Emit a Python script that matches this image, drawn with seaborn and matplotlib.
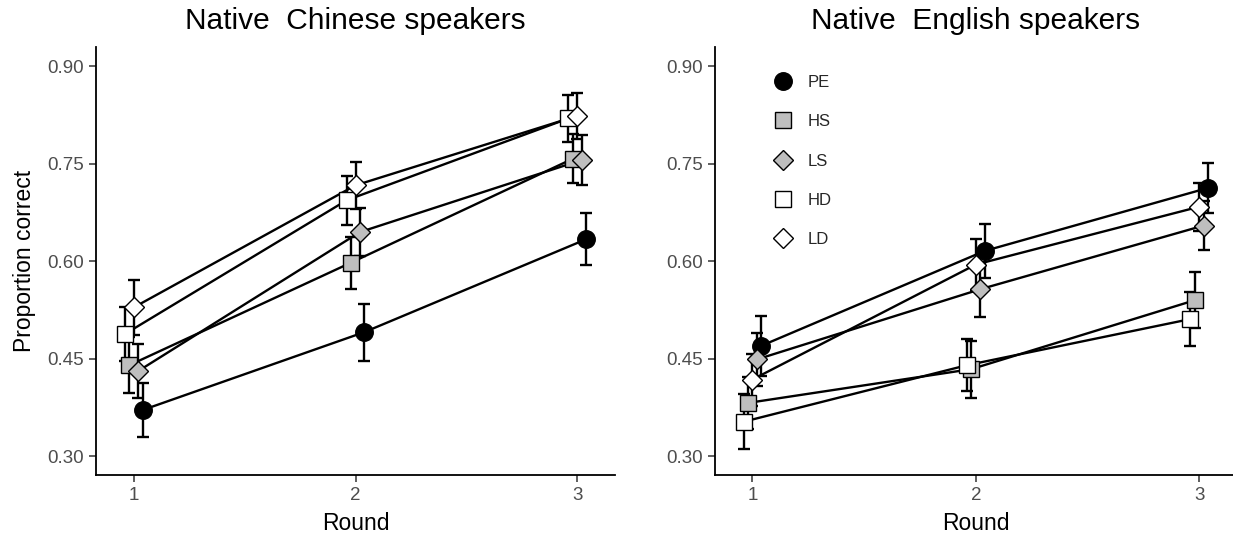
import matplotlib
matplotlib.use("Agg")
import matplotlib.pyplot as plt
from matplotlib.lines import Line2D
import seaborn as sns
import numpy as np
import pandas as pd

sns.set_theme(style="ticks")
plt.rcParams['font.family'] = ['Liberation Sans', 'DejaVu Sans']

rounds = [1, 2, 3]
conditions = ["PE", "HS", "LS", "HD", "LD"]
panel_titles = ["Native  Chinese speakers", "Native  English speakers"]

# Native Chinese speakers: means and standard errors
cn_PE = [0.371, 0.491, 0.634]
cn_HS = [0.440, 0.598, 0.758]
cn_LS = [0.431, 0.645, 0.756]
cn_HD = [0.488, 0.694, 0.820]
cn_LD = [0.529, 0.717, 0.824]
cn_PE_se = [0.042, 0.044, 0.040]
cn_HS_se = [0.043, 0.040, 0.038]
cn_LS_se = [0.042, 0.037, 0.038]
cn_HD_se = [0.042, 0.038, 0.036]
cn_LD_se = [0.043, 0.036, 0.035]

# Native English speakers: means and standard errors
en_PE = [0.470, 0.616, 0.713]
en_HS = [0.382, 0.434, 0.540]
en_LS = [0.449, 0.557, 0.655]
en_HD = [0.353, 0.440, 0.511]
en_LD = [0.418, 0.595, 0.684]
en_PE_se = [0.046, 0.042, 0.038]
en_HS_se = [0.040, 0.044, 0.043]
en_LS_se = [0.041, 0.042, 0.038]
en_HD_se = [0.042, 0.040, 0.042]
en_LD_se = [0.040, 0.040, 0.037]

y_ticks = [0.30, 0.45, 0.60, 0.75, 0.90]

rows = []
for panel, d in [("cn", {"PE": (cn_PE, cn_PE_se), "HS": (cn_HS, cn_HS_se), "LS": (cn_LS, cn_LS_se),
                          "HD": (cn_HD, cn_HD_se), "LD": (cn_LD, cn_LD_se)}),
                 ("en", {"PE": (en_PE, en_PE_se), "HS": (en_HS, en_HS_se), "LS": (en_LS, en_LS_se),
                          "HD": (en_HD, en_HD_se), "LD": (en_LD, en_LD_se)})]:
    for c in conditions:
        m, s = d[c]
        for r, mv, sv in zip(rounds, m, s):
            rows.append(dict(panel=panel, cond=c, round=r, mean=mv, se=sv))
df = pd.DataFrame(rows)

# styling (dodge order alphabetical like ggplot)
dodge = {"HD": -0.04, "HS": -0.02, "LD": 0.0, "LS": 0.02, "PE": 0.04}
style = {
    "PE": dict(marker="o", ms=12.6, mfc="black"),
    "HS": dict(marker="s", ms=11.2, mfc="#BEBEBE"),
    "LS": dict(marker="D", ms=10.6, mfc="#BEBEBE"),
    "HD": dict(marker="s", ms=11.2, mfc="white"),
    "LD": dict(marker="D", ms=10.6, mfc="white"),
}

fig = plt.figure(figsize=(12.33, 5.35), dpi=100)
ax1 = fig.add_axes([96 / 1233, 1 - 475 / 535, 519 / 1233, 428 / 535])
ax2 = fig.add_axes([714.5 / 1233, 1 - 475 / 535, 522.5 / 1233, 428 / 535])

for ax, panel, title in [(ax1, "cn", panel_titles[0]), (ax2, "en", panel_titles[1])]:
    sub = df[df.panel == panel].copy()
    sub["x"] = sub["round"] + sub["cond"].map(dodge)
    for c in conditions:
        g = sub[sub.cond == c]
        ax.errorbar(g["x"], g["mean"], yerr=g["se"], fmt="none", ecolor="black",
                     elinewidth=1.7, capsize=4.3, capthick=1.7, zorder=2)
    for c in conditions:
        g = sub[sub.cond == c]
        sns.lineplot(data=g, x="x", y="mean", ax=ax, color="black", linewidth=1.7,
                     zorder=3, legend=False, errorbar=None)
    for i, c in enumerate(conditions):
        g = sub[sub.cond == c]
        st = style[c]
        ax.plot(g["x"], g["mean"], linestyle="none", marker=st["marker"], markersize=st["ms"],
                markerfacecolor=st["mfc"], markeredgecolor="black", markeredgewidth=1.0,
                zorder=4 + i)
    ax.set_xlim(0.83, 3.17)
    ax.set_ylim(0.271, 0.93)
    ax.set_xticks(rounds)
    ax.set_xticklabels([str(r) for r in rounds])
    ax.set_yticks(y_ticks)
    ax.set_yticklabels([f"{t:.2f}" for t in y_ticks])
    ax.tick_params(axis="both", labelsize=13.5, labelcolor="#4D4D4D", color="#333333",
                   length=5, width=1.1)
    ax.set_xlabel("Round", fontsize=16.5, color="black", labelpad=6)
    ax.set_title(title, fontsize=21.5, color="black", pad=13)
    for sp in ["top", "right"]:
        ax.spines[sp].set_visible(False)
    for sp in ["left", "bottom"]:
        ax.spines[sp].set_linewidth(1.3)
        ax.spines[sp].set_color("black")

ax1.set_ylabel("Proportion correct", fontsize=16.5, color="black", labelpad=8)
ax2.set_ylabel("")

handles = []
for c in conditions:
    st = style[c]
    handles.append(Line2D([], [], linestyle="none", marker=st["marker"], markersize=st["ms"],
                          markerfacecolor=st["mfc"], markeredgecolor="black", markeredgewidth=1.0))
leg = ax2.legend(handles, conditions, loc="upper left", bbox_to_anchor=(0.078, 0.970),
                 frameon=False, fontsize=12, labelspacing=1.46, handletextpad=0.75,
                 handlelength=1.5)

fig.savefig("out.png", dpi=100)
